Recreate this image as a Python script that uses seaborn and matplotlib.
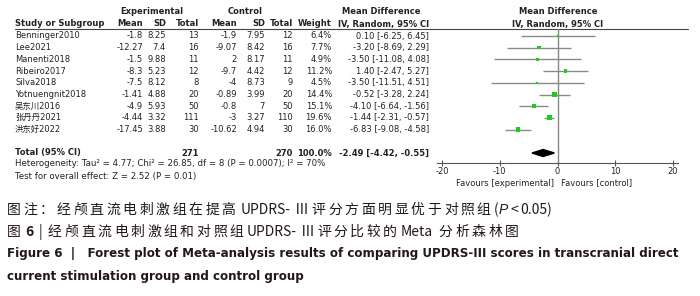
import numpy as np
import pandas as pd
import matplotlib
matplotlib.use("Agg")
import matplotlib.pyplot as plt
import seaborn as sns

# study data
studies = ["Benninger2010", "Lee2021", "Manenti2018", "Ribeiro2017", "Silva2018",
           "Yotnuengnit2018", "吴东川2016", "张丹丹2021", "洪东好2022"]
exp_mean = [-1.8, -12.27, -1.5, -8.3, -7.5, -1.41, -4.9, -4.44, -17.45]
exp_sd = [8.25, 7.4, 9.88, 5.23, 8.12, 4.88, 5.93, 3.32, 3.88]
exp_n = [13, 16, 11, 12, 8, 20, 50, 111, 30]
ctl_mean = [-1.9, -9.07, 2, -9.7, -4, -0.89, -0.8, -3, -10.62]
ctl_sd = [7.95, 8.42, 8.17, 4.42, 8.73, 3.99, 7, 3.27, 4.94]
ctl_n = [12, 16, 11, 12, 9, 20, 50, 110, 30]
weight = [6.4, 7.7, 4.9, 11.2, 4.5, 14.4, 15.1, 19.6, 16.0]
md = [0.10, -3.20, -3.50, 1.40, -3.50, -0.52, -4.10, -1.44, -6.83]
ci_lo = [-6.25, -8.69, -11.08, -2.47, -11.51, -3.28, -6.64, -2.31, -9.08]
ci_hi = [6.45, 2.29, 4.08, 5.27, 4.51, 2.24, -1.56, -0.57, -4.58]

total_weight = 100.0
total_md = -2.49
total_lo = -4.42
total_hi = -0.55
xticks = [-20, -10, 0, 10, 20]

sns.set_theme(style="white")
plt.rcParams["font.family"] = ["DejaVu Sans", "Noto Sans CJK SC"]
plt.rcParams["axes.unicode_minus"] = False

TXT = "#222222"
ROW0, ROWH = 36, 11.7
TOTAL_ROW = 10

df = pd.DataFrame({"study": studies, "md": md, "lo": ci_lo, "hi": ci_hi,
                   "weight": weight, "row": np.arange(len(studies))})

fig = plt.figure(figsize=(7, 2.96), dpi=100)

# full-figure axes in pixel units for the table and caption
tab = fig.add_axes([0, 0, 1, 1])
tab.set_xlim(0, 700)
tab.set_ylim(296, 0)
tab.axis("off")

fs = 6.0
# headers
tab.text(152, 12, "Experimental", ha="center", va="center", fontsize=fs, fontweight="bold", color=TXT)
tab.text(245, 12, "Control", ha="center", va="center", fontsize=fs, fontweight="bold", color=TXT)
tab.text(381, 12, "Mean Difference", ha="center", va="center", fontsize=fs, fontweight="bold", color=TXT)
tab.text(558, 12, "Mean Difference", ha="center", va="center", fontsize=fs, fontweight="bold", color=TXT)
tab.text(558, 24, "IV, Random, 95% CI", ha="center", va="center", fontsize=fs, fontweight="bold", color=TXT)
tab.text(15, 24, "Study or Subgroup", ha="left", va="center", fontsize=fs, fontweight="bold", color=TXT)
col_right = [143, 166, 199, 237, 265, 293, 332, 429]
headers = ["Mean", "SD", "Total", "Mean", "SD", "Total", "Weight", "IV, Random, 95% CI"]
for xr, h in zip(col_right, headers):
    tab.text(xr, 24, h, ha="right", va="center", fontsize=fs, fontweight="bold", color=TXT)
tab.plot([15, 688], [29, 29], color="#444444", lw=0.8)

# study rows
for i in range(len(studies)):
    y = ROW0 + ROWH * i
    tab.text(15, y, studies[i], ha="left", va="center", fontsize=fs, color=TXT)
    cells = [f"{exp_mean[i]:g}", f"{exp_sd[i]:g}", f"{exp_n[i]}",
             f"{ctl_mean[i]:g}", f"{ctl_sd[i]:g}", f"{ctl_n[i]}",
             f"{weight[i]:.1f}%", f"{md[i]:.2f} [{ci_lo[i]:.2f}, {ci_hi[i]:.2f}]"]
    for xr, c in zip(col_right, cells):
        tab.text(xr, y, c, ha="right", va="center", fontsize=fs, color=TXT)

# total row
yt = ROW0 + ROWH * TOTAL_ROW
tab.text(15, yt, "Total (95% CI)", ha="left", va="center", fontsize=fs, fontweight="bold", color=TXT)
for xr, c in zip([199, 293, 332, 429],
                 [f"{sum(exp_n)}", f"{sum(ctl_n)}", f"{total_weight:.1f}%",
                  f"{total_md:.2f} [{total_lo:.2f}, {total_hi:.2f}]"]):
    tab.text(xr, yt, c, ha="right", va="center", fontsize=fs, fontweight="bold", color=TXT)
tab.text(15, 164, "Heterogeneity: Tau² = 4.77; Chi² = 26.85, df = 8 (P = 0.0007); I² = 70%",
         ha="left", va="center", fontsize=6.2, color=TXT)
tab.text(15, 176, "Test for overall effect: Z = 2.52 (P = 0.01)",
         ha="left", va="center", fontsize=6.2, color=TXT)
tab.text(554, 183, "Favours [experimental]", ha="right", va="center", fontsize=fs, color=TXT)
tab.text(561, 183, "Favours [control]", ha="left", va="center", fontsize=fs, color=TXT)

# forest axes
x_left, x_right, y_top, y_bot = 437, 678, 29, 163
ax = fig.add_axes([x_left / 700, 1 - y_bot / 296, (x_right - x_left) / 700, (y_bot - y_top) / 296])
ax.set_facecolor("none")
ax.set_xlim(-20.87, 20.87)
ax.set_ylim((y_bot - ROW0) / ROWH, (y_top - ROW0) / ROWH)
ax.axvline(0, color="#888888", lw=1.0, zorder=1)
ax.hlines(df["row"], df["lo"], df["hi"], color="#8a8a8a", lw=1.0, zorder=2)
sns.scatterplot(data=df, x="md", y="row", size="weight", sizes=(3, 12), marker="s",
                color="#19d019", linewidth=0, legend=False, ax=ax, zorder=3)
h = 0.3
ax.fill([total_lo, total_md, total_hi, total_md],
        [TOTAL_ROW, TOTAL_ROW - h, TOTAL_ROW, TOTAL_ROW + h], color="black", zorder=3)
ax.set_xticks(xticks)
ax.set_xticklabels([str(t) for t in xticks])
ax.set_yticks([])
ax.set_xlabel("")
ax.set_ylabel("")
for s in ["top", "left", "right"]:
    ax.spines[s].set_visible(False)
ax.spines["bottom"].set_color("#555555")
ax.spines["bottom"].set_linewidth(0.8)
ax.tick_params(axis="x", direction="inout", length=4, width=0.8, color="#555555",
               labelsize=fs, pad=1, labelcolor=TXT, bottom=True)

# caption
CAP = "#231815"
cjk = ["Noto Sans CJK SC", "DejaVu Sans"]
cfs = 10.0
TRACK = 1.9  # extra spacing between Chinese characters, points
reg = dict(family=cjk, fontsize=cfs)
bold = dict(family=cjk, fontsize=cfs, fontweight="bold")
ital = dict(family="Liberation Sans", style="italic", fontsize=cfs)


def chain(x, y, runs):
    # runs: (text, font kwargs, tracking between chars, gap before run) in points
    prev = None
    for text, kw, track, gap in runs:
        pieces = list(text) if track else [text]
        for k, p in enumerate(pieces):
            if prev is None:
                prev = tab.text(x, y, p, ha="left", va="baseline", color=CAP, **kw)
            else:
                off = gap if k == 0 else track
                prev = tab.annotate(p, xy=(1, y), xycoords=(prev, "data"),
                                    xytext=(off, 0), textcoords="offset points",
                                    ha="left", va="baseline", color=CAP, **kw)


chain(7, 214, [("图注：经颅直流电刺激组在提高", reg, TRACK, 0),
               ("UPDRS-", reg, 0, 4),
               ("Ⅲ评分方面明显优于对照组", reg, TRACK, 3),
               ("(", reg, 0, 2), ("P", ital, 0, 0.5), ("<", reg, 0, 1.5), ("0.05)", reg, 0, 1.5)])
chain(7, 236, [("图", reg, 0, 0), ("6", bold, 0, 3), ("|", reg, 0, 4),
               ("经颅直流电刺激组和对照组", reg, TRACK, 4),
               ("UPDRS-", reg, 0, 2),
               ("Ⅲ评分比较的", reg, TRACK, 3),
               ("Meta", reg, 0, 3),
               ("分析森林图", reg, TRACK, 4)])
efs = 8.6
tab.text(7, 257, "Figure 6  |   Forest plot of Meta-analysis results of comparing UPDRS-III scores in transcranial direct",
         ha="left", va="baseline", fontsize=efs, fontweight="bold", family="DejaVu Sans", color=CAP)
tab.text(7, 280, "current stimulation group and control group",
         ha="left", va="baseline", fontsize=efs, fontweight="bold", family="DejaVu Sans", color=CAP)

fig.savefig("out.png", dpi=100)
